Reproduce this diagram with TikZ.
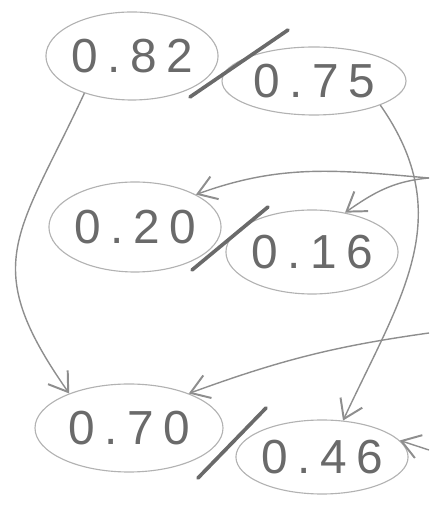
\documentclass[tikz,border=0pt]{standalone}
\usepackage{fontspec}
\usepackage{xcolor}
\usetikzlibrary{shapes.geometric, arrows.meta}
\newfontfamily\handfont[LetterSpace=20]{Liberation Sans}
\definecolor{pencil}{HTML}{6A6A6A}
\definecolor{pencilmid}{HTML}{8E8E8E}
\definecolor{pencillight}{HTML}{B2B2B2}

\begin{document}
\begin{tikzpicture}[
    score/.style={ellipse, draw=pencillight, line width=0.8pt, inner sep=0pt, text=pencil, font=\handfont\fontsize{34}{40}\selectfont},
    slash/.style={draw=pencil, line width=2.6pt, line cap=round},
    arrow/.style={-{Straight Barb[length=4.5mm, width=6mm, line width=1.4pt]}, line width=1pt, color=pencilmid}
]
\useasboundingbox (0,0) rectangle (10.725,12.65);
% Nodes
\node[score, minimum width=4.3cm, minimum height=2.2cm] (s82) at (3.30,11.25) {0.82};
\node[score, minimum width=4.6cm, minimum height=1.7cm] (s75) at (7.85,10.625) {0.75};
\node[score, minimum width=3.6cm, minimum height=2.25cm] (s20) at (3.375,6.975) {0.20};
\node[score, minimum width=4.0cm, minimum height=2.1cm] (s16) at (7.8,6.35) {0.16};
\node[score, minimum width=4.7cm, minimum height=2.2cm] (s70) at (3.225,1.95) {0.70};
\node[score, minimum width=4.2cm, minimum height=1.85cm] (s46) at (8.05,1.225) {0.46};
% Slashes between pairs
\draw[slash] (4.75,10.225) -- (7.2,11.9);
\draw[slash] (4.8,5.9) -- (6.7,7.475);
\draw[slash] (4.95,0.7) -- (6.65,2.45);
% Incoming from the right
\coordinate (in1) at (10.725,8.2);
\coordinate (in2) at (10.725,4.325);
\coordinate (in3) at (10.725,1.4);
% Arrows
\draw[arrow] (s82.218) to[out=245, in=125, looseness=1.35] (s70.150);
\draw[arrow] (s75.-20) to[out=-55, in=65, looseness=1.1] (s46.60);
\draw[arrow] (in1) to[out=175, in=20] (s20.28);
\draw[arrow] (in1) to[out=185, in=35] (s16.50);
\draw[arrow] (in2) to[out=188, in=20] (s70.30);
\draw[arrow] (in3) -- (s46.12);
\end{tikzpicture}
\end{document}
